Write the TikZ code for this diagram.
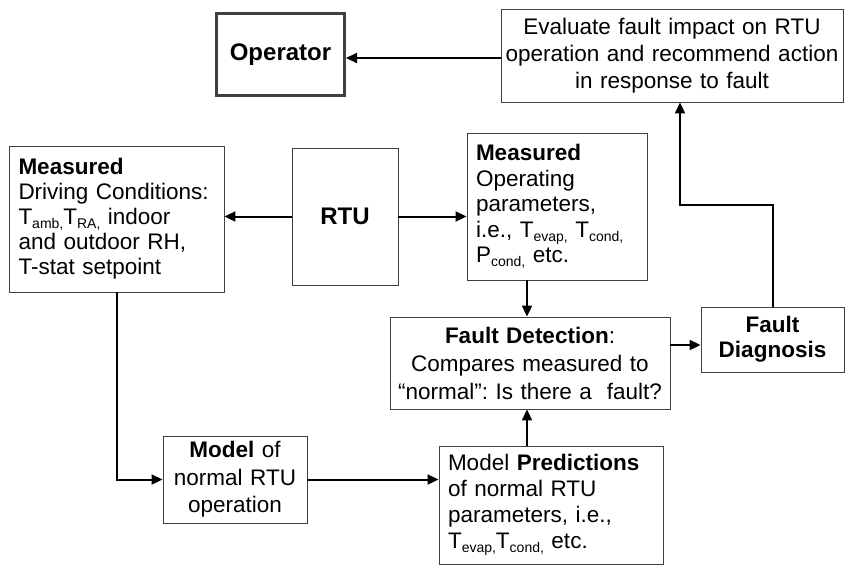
\documentclass[tikz,border=0pt]{standalone}
\usepackage{fontspec}
\setmainfont{Liberation Sans}
\usetikzlibrary{arrows.meta}
\frenchspacing
% lowered small text for subscripts
\newcommand\sbs[1]{\raisebox{-0.17em}{\fontsize{14}{14}\selectfont #1}}
\newcommand\lsk[1]{\fontsize{22.5}{#1}\selectfont}

\begin{document}
\begin{tikzpicture}[x=1pt,y=-1pt,
  box/.style={draw=black!75, line width=0.9pt, inner sep=0pt, fill=white},
  arr/.style={draw=black, line width=2pt, -{Triangle[length=11pt,width=10pt]}},
  lbox/.style={box, align=left},
  cbox/.style={box, align=center}]
\useasboundingbox (0,0) rectangle (848,565);
\fill[white] (0,0) rectangle (848,565);

% helper coordinates for connector bends and offsets
\coordinate (y58) at (0,58);
\coordinate (y345) at (0,345);
\coordinate (cx) at (527,0);
\coordinate (turn) at (680,205);

% boxes
\node[box, line width=3pt, minimum width=128pt, minimum height=82pt, font=\fontsize{24}{26}\selectfont\bfseries]
  (op) at (280.5,54.5) {Operator};
\node[cbox, minimum width=342pt, minimum height=93pt, text width=342pt, font=\lsk{26.7}]
  (eval) at (672,55.5) {Evaluate fault impact on RTU\\operation and recommend action\\in response to fault};
\node[lbox, minimum width=215pt, minimum height=146pt, text width=196pt, font=\lsk{25}]
  (drv) at (116.5,219) {\textbf{Measured}\\Driving Conditions:\\T\sbs{amb,}T\sbs{RA,} indoor\\and outdoor RH,\\T-stat setpoint};
\node[cbox, minimum width=106pt, minimum height=137pt, font=\fontsize{24}{26}\selectfont\bfseries]
  (rtu) at (345,216.5) {RTU};
\node[lbox, minimum width=180pt, minimum height=147pt, text width=162pt, font=\lsk{25.5}]
  (mop) at (557,206.5) {\textbf{Measured}\\Operating\\parameters,\\i.e., T\sbs{evap,} T\sbs{cond,}\\P\sbs{cond,} etc.};
\node[cbox, minimum width=280pt, minimum height=92pt, text width=280pt, font=\lsk{28}]
  (fd) at (530,363) {\textbf{Fault Detection}:\\Compares measured to\\“normal”: Is there a~ fault?};
\node[cbox, minimum width=143pt, minimum height=65pt, text width=143pt, font=\lsk{25}\bfseries]
  (diag) at (772.5,339.5) {Fault\\Diagnosis};
\node[cbox, minimum width=144pt, minimum height=87pt, text width=144pt, font=\lsk{27.5}]
  (mdl) at (235,479.5) {\textbf{Model} of\\normal RTU\\operation};
\node[lbox, minimum width=224pt, minimum height=118pt, text width=206pt, font=\lsk{26}]
  (pred) at (551,505) {Model \textbf{Predictions}\\of normal RTU\\parameters, i.e.,\\T\sbs{evap,}T\sbs{cond,} etc.};

% connectors
\draw[arr] (eval.west |- y58) -- (op.east |- y58);
\draw[arr] (rtu.west) -- (drv.east |- rtu.west);
\draw[arr] (rtu.east) -- (mop.west |- rtu.east);
\draw[arr] (mop.south -| cx) -- (fd.north -| cx);
\draw[arr] (pred.north -| cx) -- (fd.south -| cx);
\draw[arr] (fd.east |- y345) -- (diag.west |- y345);
\draw[arr] (diag.north) |- (turn) -- (eval.south -| turn);
\draw[arr] (drv.south) |- (mdl.west);
\draw[arr] (mdl.east) -- (pred.west |- mdl.east);
\end{tikzpicture}
\end{document}
